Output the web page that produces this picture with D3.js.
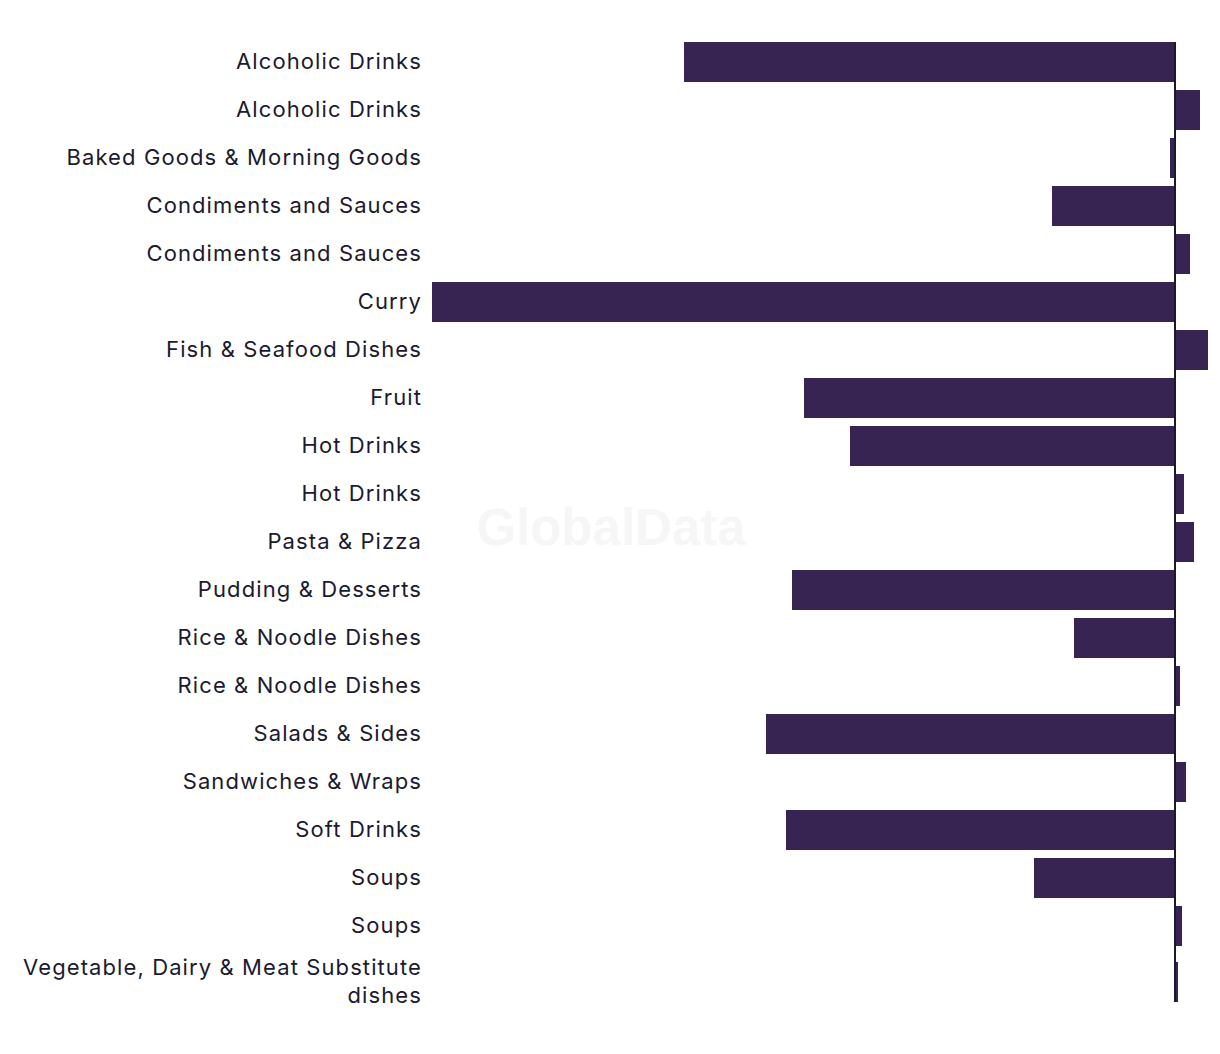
<!DOCTYPE html>
<html><head><meta charset="utf-8">
<script src="https://cdn.jsdelivr.net/npm/d3@7/dist/d3.min.js"></script>
<style>body{margin:0;background:#fff}</style>
</head><body><div id="chart"></div>
<script>
const categories = [
  "Alcoholic Drinks","Alcoholic Drinks","Baked Goods & Morning Goods","Condiments and Sauces",
  "Condiments and Sauces","Curry","Fish & Seafood Dishes","Fruit","Hot Drinks","Hot Drinks",
  "Pasta & Pizza","Pudding & Desserts","Rice & Noodle Dishes","Rice & Noodle Dishes",
  "Salads & Sides","Sandwiches & Wraps","Soft Drinks","Soups","Soups",
  "Vegetable, Dairy & Meat Substitute dishes"
];
const values = [-49.1, 2.5, -0.5, -12.3, 1.5, -74.3, 3.3, -37.1, -32.5, 0.9,
                1.9, -38.3, -10.1, 0.5, -40.9, 1.1, -38.9, -14.1, 0.7, 0.3];
const labelLines = categories.map(c => c === "Vegetable, Dairy & Meat Substitute dishes"
  ? ["Vegetable, Dairy & Meat Substitute", "dishes"] : [c]);

const W = 1220, H = 1054;
const svg = d3.select("#chart").append("svg").attr("width", W).attr("height", H);

// watermark
svg.append("text").attr("x", 611).attr("y", 545).attr("text-anchor", "middle")
  .attr("font-family", "Liberation Sans, Arial, sans-serif").attr("font-weight", "bold")
  .attr("font-size", 51).attr("fill", "#f6f6f6").text("GlobalData");

const x = d3.scaleLinear().domain([d3.min(values), d3.max(values)]).range([432, 1208]);

// variable row heights: single-line rows 48px, wrapped rows 64px
const rowH = labelLines.map(l => l.length > 1 ? 64 : 48);
const topY = 38;
const rowTop = []; let acc = topY;
rowH.forEach(h => { rowTop.push(acc); acc += h; });
const barH = 40;

const g = svg.append("g");
g.selectAll("rect.bar").data(values).join("rect").attr("class", "bar")
  .attr("x", d => Math.min(x(0), x(d)))
  .attr("width", d => Math.abs(x(d) - x(0)))
  .attr("y", (d, i) => rowTop[i] + (rowH[i] - barH) / 2)
  .attr("height", barH)
  .attr("fill", "#372452");

// zero line
g.append("line").attr("x1", x(0)).attr("x2", x(0))
  .attr("y1", rowTop[0] + (rowH[0] - barH) / 2).attr("y2", acc - (rowH[rowH.length-1] - barH) / 2)
  .attr("stroke", "#1b1830").attr("stroke-width", 2);

// labels
const lab = g.selectAll("text.lab").data(labelLines).join("text").attr("class", "lab")
  .attr("text-anchor", "end")
  .attr("font-family", "Inter, sans-serif")
  .attr("letter-spacing", "1.1px")
  .attr("font-size", 22).attr("fill", "#1b1a2e");
lab.each(function(lines, i) {
  const cy = rowTop[i] + rowH[i] / 2;
  const lh = 28;
  const y0 = cy - (lines.length - 1) * lh / 2;
  d3.select(this).selectAll("tspan").data(lines).join("tspan")
    .attr("x", 422).attr("y", (d, j) => y0 + j * lh).attr("dy", "0.33em").text(d => d);
});
</script></body></html>
